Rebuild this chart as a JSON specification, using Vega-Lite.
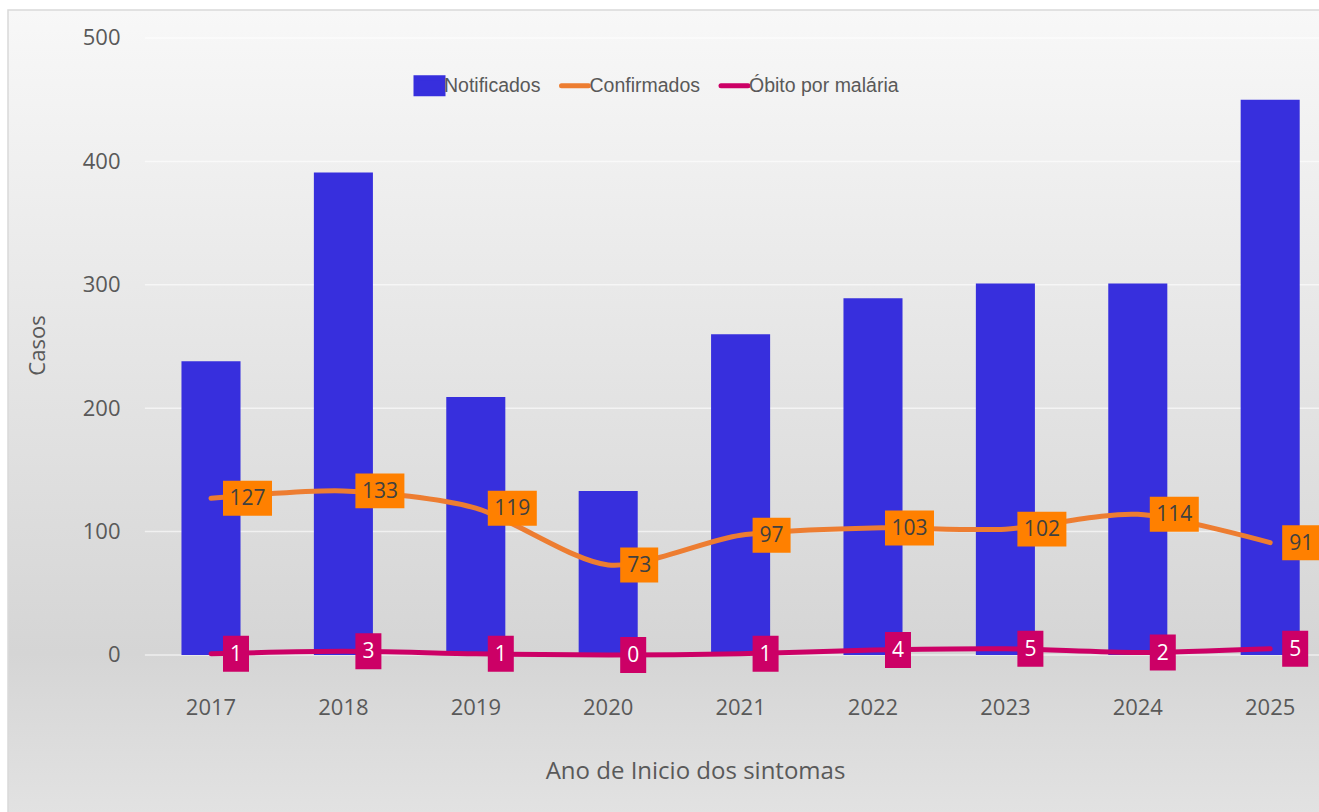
{
  "$schema": "https://vega.github.io/schema/vega-lite/v6.json",
  "autosize": {"type": "none"},
  "padding": {"left": 8, "top": 10, "right": -2, "bottom": -2},
  "width": 1313,
  "height": 804,
  "background": "#ffffff",
  "config": {
    "font": "Open Sans",
    "view": {
      "fill": {"gradient": "linear", "x1": 0, "y1": 0, "x2": 0, "y2": 1,
        "stops": [{"offset": 0, "color": "#f8f8f8"}, {"offset": 0.8, "color": "#d5d5d5"}, {"offset": 1, "color": "#e2e2e2"}]},
      "stroke": "#d9d9d9",
      "strokeWidth": 1.5
    },
    "legend": {
      "orient": "none", "direction": "horizontal",
      "legendX": 404, "legendY": 58, "padding": 0,
      "columnPadding": 10.5, "labelOffset": -3, "symbolSize": 900, "labelLimit": 0,
      "labelFont": "Liberation Sans", "labelFontSize": 19.5, "labelColor": "#595959"
    }
  },
  "data": {"values": [
    {"year": "2017", "notificados": 238, "confirmados": 127, "obitos": 1},
    {"year": "2018", "notificados": 391, "confirmados": 133, "obitos": 3},
    {"year": "2019", "notificados": 209, "confirmados": 119, "obitos": 1},
    {"year": "2020", "notificados": 133, "confirmados": 73, "obitos": 0},
    {"year": "2021", "notificados": 260, "confirmados": 97, "obitos": 1},
    {"year": "2022", "notificados": 289, "confirmados": 103, "obitos": 4},
    {"year": "2023", "notificados": 301, "confirmados": 102, "obitos": 5},
    {"year": "2024", "notificados": 301, "confirmados": 114, "obitos": 2},
    {"year": "2025", "notificados": 450, "confirmados": 91, "obitos": 5}
  ]},
  "encoding": {
    "x": {
      "field": "year", "type": "ordinal",
      "scale": {"paddingInner": 0.554, "paddingOuter": 0.7355, "align": 0.8907},
      "axis": {
        "title": "Ano de Inicio dos sintomas",
        "labelAngle": 0, "domain": false, "ticks": false, "tickSize": 0, "grid": false,
        "offset": -159, "labelPadding": 59, "labelBaseline": "alphabetic",
        "labelFont": "Open Sans", "labelFontSize": 22, "labelColor": "#595959",
        "titleFont": "Open Sans", "titleFontSize": 24, "titleFontWeight": "normal", "titleColor": "#595959",
        "titleX": 687, "titleY": 123, "titleBaseline": "alphabetic", "titleAnchor": "middle", "titleAlign": "center"
      }
    }
  },
  "layer": [
    {
      "data": {"values": [{"g": 0}, {"g": 100}, {"g": 200}, {"g": 300}, {"g": 400}, {"g": 500}]},
      "mark": {"type": "rule", "color": "#ffffff", "opacity": 0.6, "strokeWidth": 1.5},
      "encoding": {
        "x": {"datum": "2017", "bandPosition": -0.62},
        "x2": {"datum": "2025", "bandPosition": 2},
        "y": {"field": "g", "type": "quantitative"}
      }
    },
    {
      "mark": {"type": "bar", "opacity": 1},
      "encoding": {
        "y": {
          "field": "notificados", "type": "quantitative",
          "scale": {"domain": [-128.85, 522.69], "nice": false, "zero": false},
          "axis": {
            "title": "Casos", "values": [0, 100, 200, 300, 400, 500],
            "domain": false, "ticks": false, "tickSize": 0, "offset": -112, "labelPadding": 0,
            "labelFont": "Open Sans", "labelFontSize": 22, "labelColor": "#595959",
            "grid": false,
            "titleFont": "Open Sans", "titleFontSize": 22, "titleFontWeight": "normal", "titleColor": "#595959",
            "titleAngle": -90, "titleX": -83, "titleY": 335, "titleBaseline": "middle", "titleAlign": "center"
          }
        },
        "y2": {"datum": 0},
        "color": {
          "datum": "Notificados",
          "scale": {"domain": ["Notificados", "Confirmados", "Óbito por malária"], "range": ["#372FDD", "#ED7D31", "#CC0066"]},
          "legend": {
            "title": null,
            "encode": {
              "symbols": {
                "update": {
                  "shape": {"signal": "datum.value === 'Notificados' ? 'M-0.9,-0.533L0.9,-0.533L0.9,0.533L-0.9,0.533Z' : 'M0,-0.533M0,0.533M-0.9,0L0.9,0'"},
                  "fill": {"signal": "datum.value === 'Notificados' ? '#372FDD' : 'transparent'"},
                  "stroke": {"signal": "datum.value === 'Confirmados' ? '#ED7D31' : (datum.value === 'Notificados' ? 'transparent' : '#CC0066')"},
                  "strokeWidth": {"value": 5},
                  "strokeCap": {"value": "round"},
                  "opacity": {"value": 1},
                  "size": {"value": 900}
                }
              }
            }
          }
        }
      }
    },
    {
      "mark": {"type": "line", "strokeWidth": 5, "interpolate": "cardinal", "tension": 0.2, "strokeCap": "round"},
      "encoding": {
        "y": {"field": "confirmados", "type": "quantitative"},
        "color": {
          "datum": "Confirmados",
          "legend": {
            "title": null,
            "encode": {
              "symbols": {
                "update": {
                  "shape": {"signal": "datum.value === 'Notificados' ? 'M-0.9,-0.533L0.9,-0.533L0.9,0.533L-0.9,0.533Z' : 'M0,-0.533M0,0.533M-0.9,0L0.9,0'"},
                  "fill": {"signal": "datum.value === 'Notificados' ? '#372FDD' : 'transparent'"},
                  "stroke": {"signal": "datum.value === 'Confirmados' ? '#ED7D31' : (datum.value === 'Notificados' ? 'transparent' : '#CC0066')"},
                  "strokeWidth": {"value": 5},
                  "strokeCap": {"value": "round"},
                  "opacity": {"value": 1},
                  "size": {"value": 900}
                }
              }
            }
          }
        }
      }
    },
    {
      "mark": {"type": "line", "strokeWidth": 5, "interpolate": "cardinal", "tension": 0.2, "strokeCap": "round"},
      "encoding": {
        "y": {"field": "obitos", "type": "quantitative"},
        "color": {
          "datum": "Óbito por malária",
          "legend": {
            "title": null,
            "encode": {
              "symbols": {
                "update": {
                  "shape": {"signal": "datum.value === 'Notificados' ? 'M-0.9,-0.533L0.9,-0.533L0.9,0.533L-0.9,0.533Z' : 'M0,-0.533M0,0.533M-0.9,0L0.9,0'"},
                  "fill": {"signal": "datum.value === 'Notificados' ? '#372FDD' : 'transparent'"},
                  "stroke": {"signal": "datum.value === 'Confirmados' ? '#ED7D31' : (datum.value === 'Notificados' ? 'transparent' : '#CC0066')"},
                  "strokeWidth": {"value": 5},
                  "strokeCap": {"value": "round"},
                  "opacity": {"value": 1},
                  "size": {"value": 900}
                }
              }
            }
          }
        }
      }
    },
    {
      "transform": [{"filter": "datum.confirmados >= 100"}],
      "mark": {"type": "point", "shape": "M-1,-0.714L1,-0.714L1,0.714L-1,0.714Z", "size": 2401, "filled": true, "fill": "#FF8000", "opacity": 1, "strokeWidth": 0, "xOffset": 36.5},
      "encoding": {"y": {"field": "confirmados", "type": "quantitative"}}
    },
    {
      "transform": [{"filter": "datum.confirmados < 100"}],
      "mark": {"type": "point", "shape": "M-1,-0.921L1,-0.921L1,0.921L-1,0.921Z", "size": 1444, "filled": true, "fill": "#FF8000", "opacity": 1, "strokeWidth": 0, "xOffset": 31},
      "encoding": {"y": {"field": "confirmados", "type": "quantitative"}}
    },
    {
      "transform": [{"filter": "datum.confirmados >= 100"}],
      "mark": {"type": "text", "font": "Open Sans", "fontSize": 21, "color": "#404040", "align": "center", "baseline": "middle", "xOffset": 36.5, "yOffset": 1},
      "encoding": {"y": {"field": "confirmados", "type": "quantitative"}, "text": {"field": "confirmados", "type": "quantitative"}}
    },
    {
      "transform": [{"filter": "datum.confirmados < 100"}],
      "mark": {"type": "text", "font": "Open Sans", "fontSize": 21, "color": "#404040", "align": "center", "baseline": "middle", "xOffset": 31, "yOffset": 1},
      "encoding": {"y": {"field": "confirmados", "type": "quantitative"}, "text": {"field": "confirmados", "type": "quantitative"}}
    },
    {
      "mark": {"type": "point", "shape": "M-1,-1.385L1,-1.385L1,1.385L-1,1.385Z", "size": 676, "filled": true, "fill": "#CC0066", "opacity": 1, "strokeWidth": 0, "xOffset": 25},
      "encoding": {"y": {"field": "obitos", "type": "quantitative"}}
    },
    {
      "mark": {"type": "text", "font": "Open Sans", "fontSize": 21, "color": "#ffffff", "align": "center", "baseline": "middle", "xOffset": 25, "yOffset": 1},
      "encoding": {"y": {"field": "obitos", "type": "quantitative"}, "text": {"field": "obitos", "type": "quantitative"}}
    }
  ]
}
